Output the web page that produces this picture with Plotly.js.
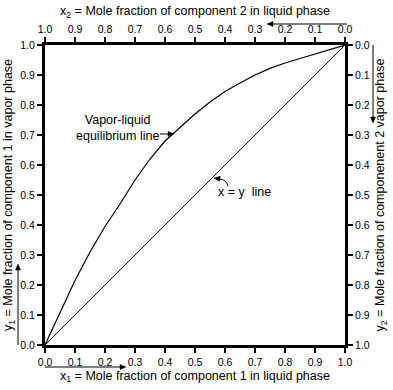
<!DOCTYPE html>
<html>
<head>
<meta charset="utf-8">
<script src="https://cdn.plot.ly/plotly-3.0.1.min.js"></script>
<style>html,body{margin:0;padding:0;background:#fff;}#chart{width:393px;height:390px;}</style>
</head>
<body>
<div id="chart"></div>
<script>
// Vapor-liquid equilibrium curve (x1 liquid, y1 vapor)
const x1Liquid = [0, 0.05, 0.1, 0.15, 0.2, 0.25, 0.3, 0.35, 0.4, 0.45, 0.5, 0.55, 0.6, 0.65, 0.7, 0.75, 0.8, 0.85, 0.9, 0.95, 1.0];
const y1Vapor  = [0, 0.11, 0.215, 0.31, 0.395, 0.47, 0.55, 0.62, 0.68, 0.725, 0.77, 0.81, 0.845, 0.873, 0.9, 0.922, 0.94, 0.955, 0.97, 0.985, 1.0];
// x = y line (drawn on the component-2 axes: x2 = y2)
const diagX = [0, 1];
const diagY = [0, 1];
const tickVals = [0, 0.1, 0.2, 0.3, 0.4, 0.5, 0.6, 0.7, 0.8, 0.9, 1.0];

const FONT = 'Liberation Sans, Arial, sans-serif';
const tickFont = {family: FONT, size: 10.5, color: '#000'};
const titleFont = {family: FONT, size: 12.5, color: '#000'};
const noteFont = {family: FONT, size: 12.5, color: '#000'};

const axisCommon = {
  showgrid: false, zeroline: false, showline: true, linewidth: 3, linecolor: '#000',
  ticks: 'outside', ticklen: 5, tickwidth: 2, tickcolor: '#000',
  tickvals: tickVals, tickformat: '.1f', tickfont: tickFont, fixedrange: true
};

const traces = [
  {x: x1Liquid, y: y1Vapor, mode: 'lines', line: {color: '#000', width: 1.2}, xaxis: 'x', yaxis: 'y', hoverinfo: 'skip', name: 'Vapor-liquid equilibrium line'},
  {x: diagX, y: diagY, mode: 'lines', line: {color: '#000', width: 1}, xaxis: 'x2', yaxis: 'y2', hoverinfo: 'skip', name: 'x = y line'}
];

function px(p){ return (p - 45) / 300; }
function py(p){ return (345 - p) / 300; }

// arrow as shapes (pixel coords converted to paper)
function arrowShapes(tx, ty, hx, hy){
  const dx = hx - tx, dy = hy - ty, L = Math.hypot(dx, dy);
  const ux = dx / L, uy = dy / L, len = 6, hw = 2.5;
  const bx = hx - ux * len, by = hy - uy * len;
  const p1 = [bx - uy * hw, by + ux * hw], p2 = [bx + uy * hw, by - ux * hw];
  return [
    {type: 'line', xref: 'paper', yref: 'paper', x0: px(tx), y0: py(ty), x1: px(bx), y1: py(by), line: {color: '#000', width: 1}},
    {type: 'path', xref: 'paper', yref: 'paper',
     path: `M ${px(hx)} ${py(hy)} L ${px(p1[0])} ${py(p1[1])} L ${px(p2[0])} ${py(p2[1])} Z`,
     fillcolor: '#000', line: {color: '#000', width: 0.5}}
  ];
}

const shapes = [].concat(
  arrowShapes(160, 134, 174, 134),
  arrowShapes(347, 24, 267, 24),
  arrowShapes(45, 367, 126, 367),
  arrowShapes(18, 345, 18, 264),
  arrowShapes(373, 45, 373, 123),
  [{type: 'path', xref: 'paper', yref: 'paper',
    path: `M ${px(228)} ${py(186)} Q ${px(226)} ${py(179)} ${px(219)} ${py(179)}`,
    line: {color: '#000', width: 1}}],
  (function(){ const s = arrowShapes(221, 179, 214, 178); return [s[1]]; })()
);

const layout = {
  width: 393, height: 390,
  margin: {l: 45, r: 48, t: 45, b: 45},
  paper_bgcolor: '#fff', plot_bgcolor: '#fff',
  showlegend: false,
  xaxis: Object.assign({}, axisCommon, {range: [0, 1], side: 'bottom', anchor: 'y',
    title: {text: 'x<sub>1</sub> = Mole fraction of component 1 in liquid phase', font: titleFont, standoff: 5}}),
  yaxis: Object.assign({}, axisCommon, {range: [0, 1], side: 'left', anchor: 'x',
    title: {text: 'y<sub>1</sub> = Mole fraction of component 1 in vapor phase', font: titleFont, standoff: 5}}),
  xaxis2: Object.assign({}, axisCommon, {range: [1, 0], side: 'top', overlaying: 'x', anchor: 'y',
    title: {text: 'x<sub>2</sub> = Mole fraction of component 2 in liquid phase', font: titleFont, standoff: 5}}),
  yaxis2: Object.assign({}, axisCommon, {range: [1, 0], side: 'right', overlaying: 'y', anchor: 'x',
    title: {text: 'y<sub>2</sub> = Mole fraction of componenent 2 vapor phase', font: titleFont, standoff: 7}}),
  shapes: shapes,
  annotations: [
    {xref: 'paper', yref: 'paper', x: px(117), y: py(128), text: 'Vapor-liquid<br>equilibrium line', showarrow: false,
     font: noteFont, align: 'center', xanchor: 'center', yanchor: 'middle'},
    {xref: 'paper', yref: 'paper', x: px(244), y: py(192), text: 'x = y  line', showarrow: false,
     font: noteFont, xanchor: 'center', yanchor: 'middle'}
  ]
};

Plotly.newPlot('chart', traces, layout, {staticPlot: true, displayModeBar: false});
</script>
</body>
</html>
